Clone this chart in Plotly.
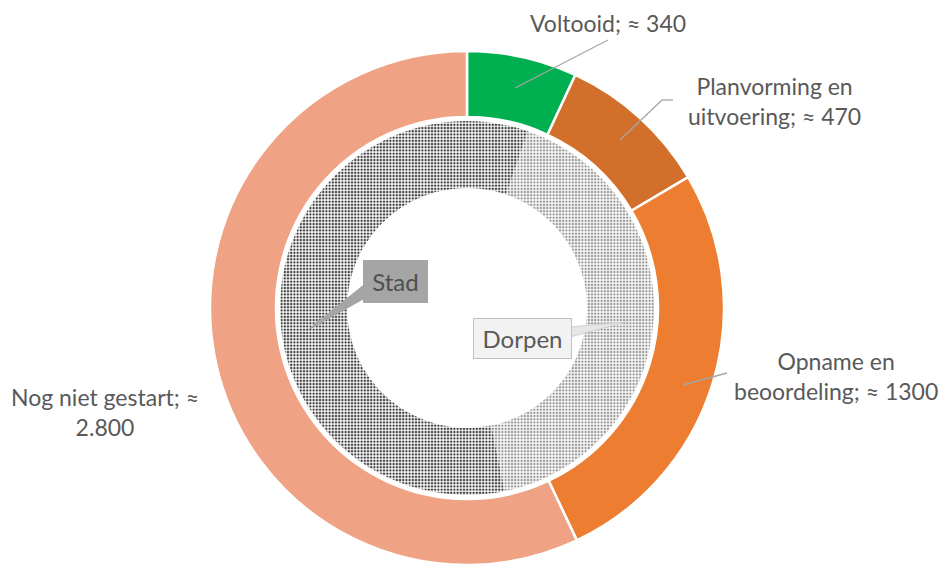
import plotly.graph_objects as go

# Data
outer_labels = ["Voltooid", "Planvorming en uitvoering", "Opname en beoordeling", "Nog niet gestart"]
outer_values = [340, 470, 1300, 2800]
outer_colors = ["#00B050", "#D2702B", "#ED7D31", "#EFA384"]
outer_texts = ["Voltooid; ≈ 340", "Planvorming en<br>uitvoering; ≈ 470",
               "Opname en<br>beoordeling; ≈ 1300", "Nog niet gestart; ≈<br>2.800"]

inner_labels = ["Dorpen", "Stad"]
inner_values = [41.5, 58.5]   # approximate shares

OFF = 8                      # default page body margin of the html
W, H = 951 - OFF, 570 - OFF  # figure fits the window exactly
cx, cy = 467, 308            # donut centre in window pixels (from top-left)
R_out, R_out_in = 257, 191
R_in, R_in_in = 187, 120

def px(x): return (x - OFF) / W
def py(y): return 1 - (y - OFF) / H

def dom(r):
    return dict(x=[px(cx - r), px(cx + r)], y=[py(cy + r), py(cy - r)])

fig = go.Figure()
fig.add_trace(go.Pie(
    labels=outer_labels, values=outer_values, sort=False, direction="clockwise",
    rotation=0, hole=R_out_in / R_out, domain=dom(R_out),
    marker=dict(colors=outer_colors, line=dict(color="white", width=2.5)),
    textinfo="none", hoverinfo="label+value", showlegend=False,
))
fig.add_trace(go.Pie(
    labels=inner_labels, values=inner_values, sort=False, direction="clockwise",
    rotation=19, hole=R_in_in / R_in, domain=dom(R_in),
    marker=dict(colors=["white", "white"], line=dict(color="white", width=0),
                pattern=dict(shape=".", fgcolor=["#959595", "#3a3a3a"],
                             bgcolor="white", size=3.2, solidity=0.45)),
    textinfo="none", hoverinfo="label+value", showlegend=False,
))

font = dict(family="Lato, Carlito, Calibri, sans-serif", size=23, color="#595959")

# outer labels: (text index, centre x, centre y)
label_pos = [(0, 608, 23), (1, 774, 101), (2, 836, 376), (3, 105, 412)]
for i, x, y in label_pos:
    fig.add_annotation(x=px(x), y=py(y), xref="paper", yref="paper", text=outer_texts[i],
                       showarrow=False, font=font, align="center",
                       xanchor="center", yanchor="middle")

# leader lines
leaders = [
    [(608, 40), (515, 88)],
    [(673, 100), (662, 100), (620, 140)],
    [(727, 373), (683, 385)],
]
for pts in leaders:
    for (x0, y0), (x1, y1) in zip(pts[:-1], pts[1:]):
        fig.add_shape(type="line", xref="paper", yref="paper",
                      x0=px(x0), y0=py(y0), x1=px(x1), y1=py(y1),
                      line=dict(color="#A6A6A6", width=1.3))

# callout pointers for inner labels
fig.add_shape(type="path", xref="paper", yref="paper",
              path=f"M {px(365)} {py(284)} L {px(308)} {py(330)} L {px(365)} {py(298)} Z",
              fillcolor="#A5A5A5", line=dict(color="#A5A5A5", width=1))
fig.add_shape(type="path", xref="paper", yref="paper",
              path=f"M {px(570)} {py(327)} L {px(626)} {py(322)} L {px(570)} {py(337)} Z",
              fillcolor="#E6E6E6", line=dict(color="#D0D0D0", width=1))

fig.add_annotation(x=px(395.5), y=py(281.5), xref="paper", yref="paper", text="Stad",
                   showarrow=False, font=dict(family=font["family"], size=24, color="#4F4F4F"),
                   bgcolor="#A5A5A5", bordercolor="#A5A5A5", borderwidth=1, borderpad=0,
                   width=63, height=41, xanchor="center", yanchor="middle")
fig.add_annotation(x=px(522.5), y=py(338.5), xref="paper", yref="paper", text="Dorpen",
                   showarrow=False, font=dict(family=font["family"], size=24, color="#595959"),
                   bgcolor="#F2F2F2", bordercolor="#BFBFBF", borderwidth=1, borderpad=0,
                   width=97, height=39, xanchor="center", yanchor="middle")

fig.update_layout(width=W, height=H, margin=dict(l=0, r=0, t=0, b=0),
                  paper_bgcolor="white", plot_bgcolor="white", showlegend=False)
fig.write_html("out.html")
